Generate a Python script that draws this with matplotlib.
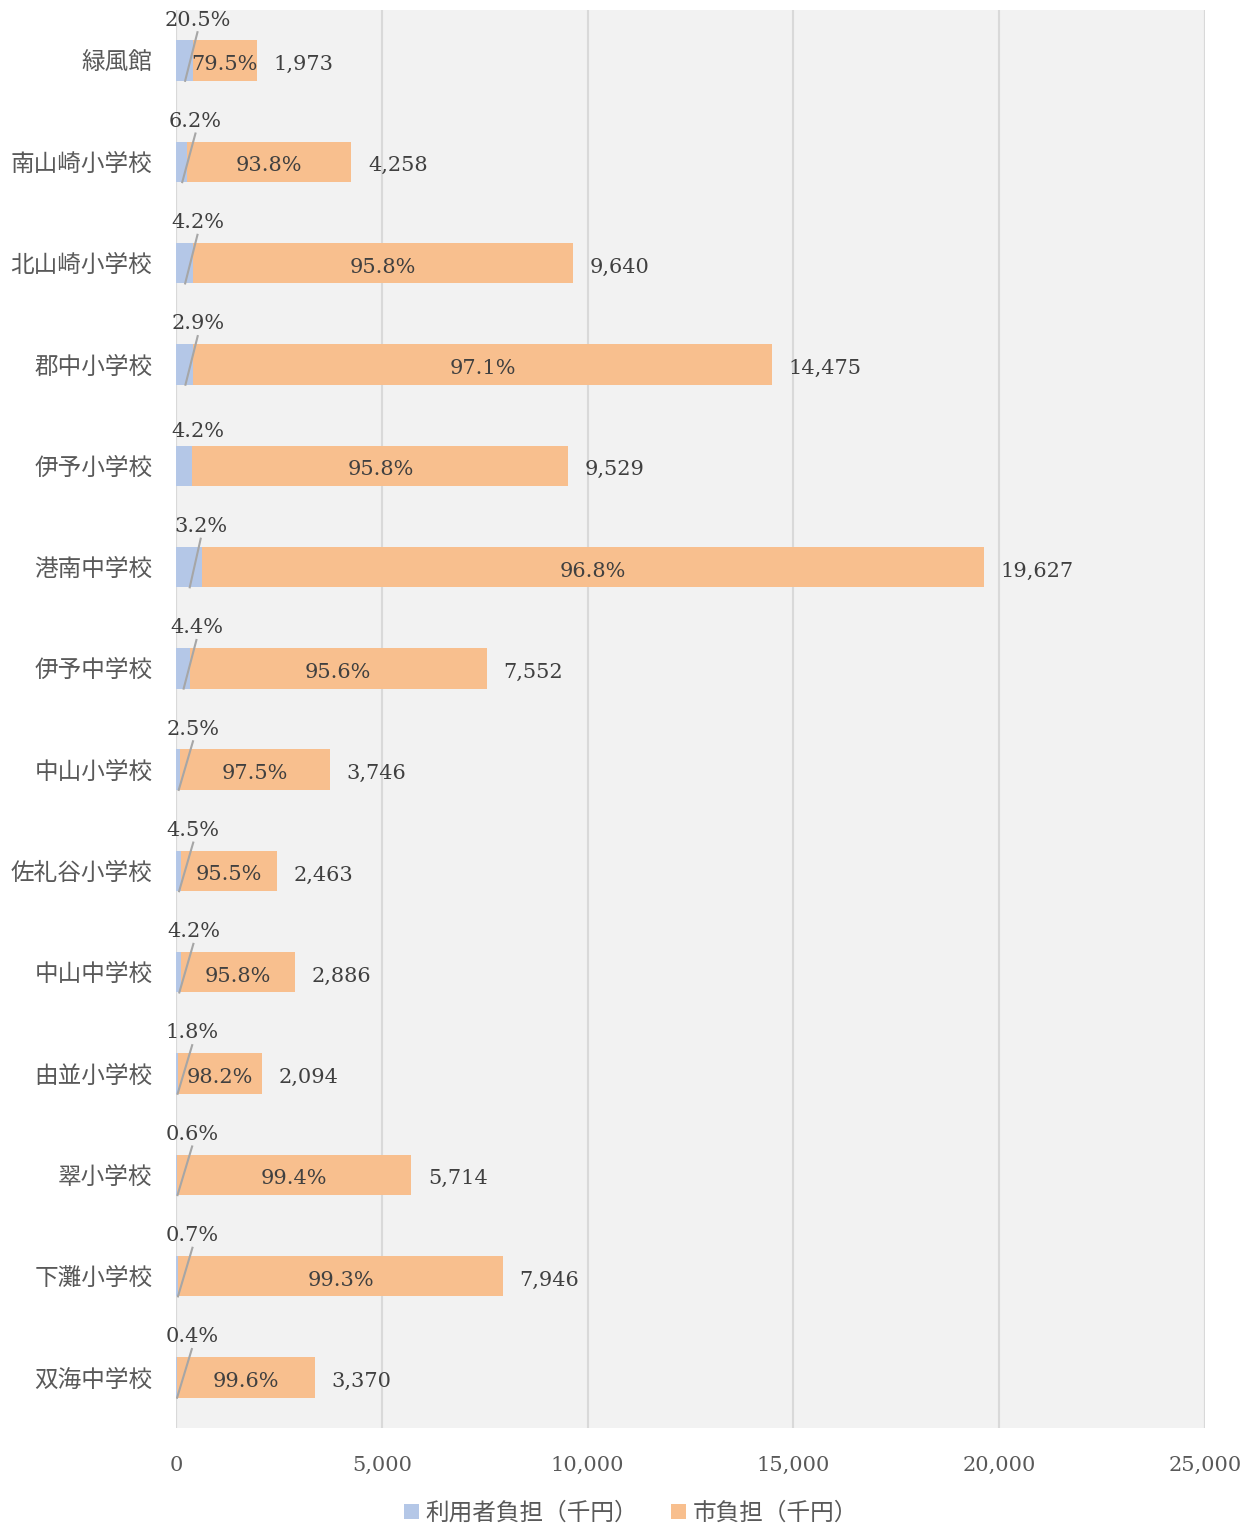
import matplotlib
matplotlib.use("Agg")
import matplotlib.pyplot as plt
import numpy as np

# 施設別の負担内訳（千円）
names = ["緑風館", "南山崎小学校", "北山崎小学校", "郡中小学校", "伊予小学校",
         "港南中学校", "伊予中学校", "中山小学校", "佐礼谷小学校", "中山中学校",
         "由並小学校", "翠小学校", "下灘小学校", "双海中学校"]
user_cost = [404, 264, 405, 420, 400, 628, 332, 94, 111, 121, 38, 34, 56, 13]
city_cost = [1569, 3994, 9235, 14055, 9129, 18999, 7220, 3652, 2352, 2765,
             2056, 5680, 7890, 3357]
totals = [1973, 4258, 9640, 14475, 9529, 19627, 7552, 3746, 2463, 2886,
          2094, 5714, 7946, 3370]
user_pct = ["20.5%", "6.2%", "4.2%", "2.9%", "4.2%", "3.2%", "4.4%", "2.5%",
            "4.5%", "4.2%", "1.8%", "0.6%", "0.7%", "0.4%"]
city_pct = ["79.5%", "93.8%", "95.8%", "97.1%", "95.8%", "96.8%", "95.6%",
            "97.5%", "95.5%", "95.8%", "98.2%", "99.4%", "99.3%", "99.6%"]
xticks = [0, 5000, 10000, 15000, 20000, 25000]

BLUE = "#b4c7e7"
ORANGE = "#f8bf8e"
TXT = "#404040"
GRAY = "#595959"
NUMFONT = ["DejaVu Serif", "Noto Sans CJK JP"]
JPFONT = ["Noto Sans CJK JP", "DejaVu Sans"]

fig = plt.figure(figsize=(12.5, 15.28), dpi=100)
ax = fig.add_axes([0.1408, 0.0654, 0.8232, 0.9281])
ax.set_facecolor("#f2f2f2")

y = np.arange(len(names))
h = 0.4
b1 = ax.barh(y, user_cost, height=h, color=BLUE, label="利用者負担（千円）", zorder=2)
b2 = ax.barh(y, city_cost, left=user_cost, height=h, color=ORANGE,
             label="市負担（千円）", zorder=2)

ax.set_xlim(0, 25000)
ax.set_ylim(len(names) - 0.5, -0.5)
ax.set_xticks(xticks)
ax.set_xticklabels(["{:,}".format(v) for v in xticks], family=NUMFONT,
                   fontsize=15, color=GRAY)
ax.set_yticks(y)
ax.set_yticklabels(names, family=JPFONT, fontsize=17, color=GRAY)
ax.tick_params(axis="x", length=0, pad=20)
ax.tick_params(axis="y", length=0, pad=17)
for s in ax.spines.values():
    s.set_visible(False)
ax.grid(axis="x", color="#d9d9d9", linewidth=1.5, zorder=1)
ax.axvline(0, color="#d9d9d9", linewidth=1.5, zorder=1)
ax.axvline(25000, color="#d9d9d9", linewidth=1.5, zorder=1)

for i in range(len(names)):
    # 市負担の割合（バー中央）
    ax.text(user_cost[i] + city_cost[i] / 2, y[i] + 0.02, city_pct[i], ha="center",
            va="center_baseline", family=NUMFONT, fontsize=15, color=TXT, zorder=3)
    # 合計
    ax.annotate("{:,}".format(totals[i]), xy=(totals[i], y[i] + 0.02),
                xytext=(12, 0), textcoords="offset points", ha="left",
                va="center_baseline", family=NUMFONT, fontsize=15, color=TXT)
    # 利用者負担の割合（上側、引出線つき）
    lx = 380 + user_cost[i] * 0.35
    if i == 4:
        ax.text(lx, y[i] - 0.36, user_pct[i], ha="center", va="center_baseline",
                family=NUMFONT, fontsize=15, color=TXT, zorder=3)
    else:
        ly = y[i] - 0.42
        ax.text(lx, ly, user_pct[i], ha="center", va="center_baseline",
                family=NUMFONT, fontsize=15, color=TXT, zorder=3)
        ax.plot([user_cost[i] / 2 + 20, lx], [y[i] + h / 2, ly + 0.14],
                color="#a6a6a6", linewidth=1.5, zorder=3)

leg = fig.legend(handles=[b1, b2], loc="center", bbox_to_anchor=(0.505, 0.0095),
                 ncol=2, frameon=False, handlelength=0.6, handleheight=0.6,
                 handletextpad=0.3, columnspacing=1.4,
                 prop={"family": JPFONT, "size": 17})
for t in leg.get_texts():
    t.set_color(GRAY)

fig.savefig("out.png", dpi=100)
